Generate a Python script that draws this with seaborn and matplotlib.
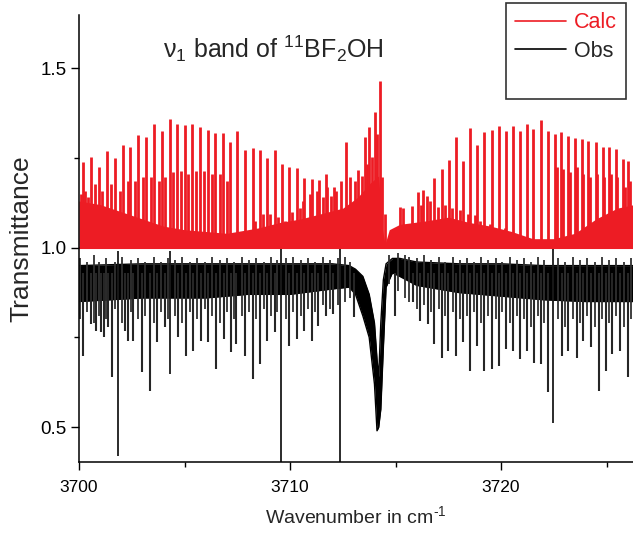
import numpy as np
import pandas as pd
import matplotlib
matplotlib.use("Agg")
import matplotlib.pyplot as plt
from matplotlib.lines import Line2D
from matplotlib.ticker import MultipleLocator
import seaborn as sns

# calculated spectrum: strong P / Q / R lines (cm-1, transmittance)
calc_strong_pos = [3700.19, 3700.57, 3700.95, 3701.33, 3701.69, 3702.07, 3702.42, 3702.81,
                   3703.19, 3703.57, 3703.93, 3704.30, 3704.64, 3705.01, 3705.37, 3705.73,
                   3706.10, 3706.45, 3706.81, 3707.17, 3707.50, 3707.87, 3708.23, 3708.58,
                   3708.92, 3709.27, 3709.62, 3709.97, 3710.33, 3710.66, 3711.03, 3711.37,
                   3711.72, 3712.07, 3712.40, 3712.64, 3713.22, 3713.54, 3713.76, 3714.03,
                   3714.27,
                   3716.08, 3716.32, 3716.84, 3717.20, 3717.54, 3717.88, 3718.21, 3718.53,
                   3718.88, 3719.21, 3719.56, 3719.89, 3720.24, 3720.55, 3720.90, 3721.21,
                   3721.53, 3721.87, 3722.21, 3722.55, 3722.86, 3723.19, 3723.51, 3723.82,
                   3724.14, 3724.50, 3724.82, 3725.13, 3725.45, 3725.77, 3726.03]
calc_strong_height = [1.238, 1.252, 1.226, 1.268, 1.250, 1.287, 1.280, 1.315,
                      1.307, 1.345, 1.324, 1.358, 1.345, 1.343, 1.345, 1.335,
                      1.329, 1.318, 1.318, 1.293, 1.324, 1.273, 1.277, 1.272,
                      1.250, 1.273, 1.233, 1.224, 1.222, 1.194, 1.190, 1.189,
                      1.205, 1.168, 1.187, 1.293, 1.216, 1.307, 1.335, 1.377,
                      1.465,
                      1.154, 1.161, 1.193, 1.219, 1.244, 1.309, 1.242, 1.333,
                      1.287, 1.321, 1.328, 1.340, 1.324, 1.340, 1.326, 1.345,
                      1.331, 1.355, 1.326, 1.317, 1.321, 1.312, 1.306, 1.303,
                      1.296, 1.293, 1.281, 1.279, 1.275, 1.247, 1.242]

# calculated spectrum: medium lines
calc_mid_pos = [3700.08, 3700.27, 3700.45, 3700.74, 3701.10, 3701.53, 3701.93, 3702.32,
                3702.67, 3703.03, 3703.40, 3703.79, 3704.09, 3704.45, 3704.82, 3705.17,
                3705.56, 3705.92, 3706.30, 3706.67, 3707.03, 3708.34, 3708.73, 3709.05,
                3709.45, 3709.76, 3710.10, 3710.45, 3710.63, 3710.95, 3711.26, 3711.55,
                3711.74, 3711.95, 3712.18, 3712.84, 3713.08, 3713.40, 3713.66, 3713.87,
                3714.11, 3714.35, 3714.50, 3715.21, 3715.37, 3715.77, 3716.20, 3716.48,
                3716.64, 3717.03, 3717.35, 3717.66, 3718.06, 3718.45, 3718.75, 3719.00,
                3719.48, 3720.19, 3722.64, 3722.95, 3723.27, 3723.59, 3723.90, 3724.22,
                3724.56, 3724.88, 3725.20, 3725.48, 3725.88, 3726.11]
calc_mid_height = [1.150, 1.159, 1.140, 1.178, 1.159, 1.178, 1.159, 1.187,
                   1.187, 1.196, 1.196, 1.187, 1.196, 1.210, 1.214, 1.205,
                   1.214, 1.214, 1.205, 1.205, 1.187, 1.075, 1.094, 1.094,
                   1.084, 1.075, 1.100, 1.110, 1.131, 1.150, 1.159, 1.140,
                   1.168, 1.145, 1.159, 1.196, 1.187, 1.200, 1.233, 1.252,
                   1.317, 1.196, 1.094, 1.112, 1.110, 1.117, 1.120, 1.145,
                   1.130, 1.112, 1.120, 1.110, 1.105, 1.094, 1.090, 1.075,
                   1.066, 1.056, 1.224, 1.219, 1.210, 1.224, 1.205, 1.196,
                   1.205, 1.196, 1.205, 1.196, 1.168, 1.187]

# calculated spectrum: envelope of the dense weak lines
calc_fill_x = [3700.0, 3701.0, 3702.0, 3703.0, 3704.0, 3705.0, 3706.0, 3707.0, 3707.5,
               3708.5, 3709.5, 3710.5, 3711.5, 3712.5, 3713.2, 3713.8, 3714.2, 3714.35,
               3714.5, 3714.7, 3715.2, 3716.5, 3717.5, 3718.5, 3719.5, 3720.5, 3721.5,
               3722.5, 3723.5, 3724.5, 3725.5, 3726.3]
calc_fill_top = [1.13, 1.12, 1.10, 1.08, 1.06, 1.05, 1.045, 1.04, 1.045,
                 1.055, 1.07, 1.08, 1.095, 1.11, 1.14, 1.18, 1.20, 1.06,
                 1.01, 1.05, 1.065, 1.075, 1.085, 1.07, 1.06, 1.045, 1.025,
                 1.025, 1.04, 1.08, 1.11, 1.12]

# observed spectrum: noisy band envelope (incl. the Q-branch dip)
obs_env_x = [3700.0, 3703.0, 3706.0, 3708.0, 3710.0, 3712.0, 3712.8, 3713.1, 3713.45,
             3713.75, 3714.0, 3714.12, 3714.2, 3714.3, 3714.42, 3714.55, 3714.85, 3715.2,
             3716.0, 3718.0, 3720.0, 3722.0, 3724.0, 3726.3]
obs_env_top = [0.95, 0.955, 0.955, 0.955, 0.955, 0.955, 0.95, 0.94, 0.92,
               0.87, 0.79, 0.69, 0.64, 0.79, 0.91, 0.955, 0.97, 0.97,
               0.96, 0.955, 0.955, 0.95, 0.95, 0.95]
obs_env_bot = [0.85, 0.86, 0.86, 0.87, 0.87, 0.885, 0.89, 0.87, 0.81,
               0.75, 0.62, 0.49, 0.50, 0.55, 0.72, 0.89, 0.93, 0.92,
               0.895, 0.875, 0.865, 0.855, 0.85, 0.85]

# observed spectrum: absorption lines (position, minimum)
obs_line_pos = [3700.19, 3700.58, 3700.82, 3701.06, 3701.18, 3701.37, 3701.58, 3702.17,
                3702.32, 3702.56, 3702.99, 3703.35, 3703.71, 3704.06, 3704.69,
                3705.09, 3705.40, 3705.80, 3706.11, 3706.51, 3706.86, 3707.19, 3707.45,
                3707.87, 3708.23, 3708.58, 3708.92, 3709.27, 3709.97, 3710.32, 3710.66,
                3711.03, 3711.34, 3711.71, 3712.05, 3713.03,
                3714.98, 3715.82, 3716.16, 3716.53, 3716.84, 3717.19, 3717.50, 3717.87,
                3718.21, 3718.53, 3718.88, 3719.19, 3719.56, 3719.89, 3720.24, 3720.58,
                3720.90, 3721.25, 3721.58, 3721.88, 3722.24, 3722.88, 3723.19, 3723.59,
                3723.90, 3724.25, 3724.63, 3724.96, 3725.24, 3725.64, 3726.03]
obs_line_min = [0.699, 0.788, 0.769, 0.764, 0.750, 0.778, 0.639, 0.769,
                0.741, 0.741, 0.653, 0.602, 0.736, 0.778, 0.750,
                0.699, 0.713, 0.741, 0.736, 0.662, 0.745, 0.708, 0.731,
                0.699, 0.634, 0.676, 0.741, 0.764, 0.727, 0.746, 0.769,
                0.741, 0.783, 0.811, 0.815, 0.806,
                0.811, 0.848, 0.797, 0.787, 0.732, 0.694, 0.713, 0.699,
                0.736, 0.657, 0.727, 0.657, 0.662, 0.671, 0.718, 0.713,
                0.690, 0.713, 0.680, 0.676, 0.597, 0.699, 0.713, 0.694,
                0.741, 0.722, 0.602, 0.657, 0.704, 0.713, 0.639]

# observed spectrum: weaker lines giving the ragged edges of the band
obs_weak_pos = [3700.05, 3700.40, 3700.70, 3700.95, 3701.30, 3701.70, 3702.05, 3702.45,
                3702.80, 3703.15, 3703.55, 3703.90, 3704.20, 3704.55, 3704.90, 3705.25,
                3705.60, 3705.95, 3706.30, 3706.70, 3707.00, 3707.35, 3707.70, 3708.05,
                3708.40, 3708.75, 3709.10, 3709.40, 3709.80, 3710.15, 3710.50, 3710.85,
                3711.20, 3711.55, 3711.90, 3712.25, 3712.60, 3712.85,
                3714.70, 3715.10, 3715.45, 3715.65, 3716.00, 3716.35, 3716.70, 3717.05,
                3717.35, 3717.70, 3718.05, 3718.40, 3718.70, 3719.05, 3719.40, 3719.75,
                3720.05, 3720.40, 3720.75, 3721.10, 3721.40, 3721.75, 3722.05, 3722.70,
                3723.05, 3723.40, 3723.75, 3724.05, 3724.45, 3724.80, 3725.10, 3725.45,
                3725.80, 3726.15]
obs_weak_min = [0.80, 0.82, 0.79, 0.81, 0.80, 0.83, 0.79, 0.82,
                0.80, 0.81, 0.79, 0.82, 0.80, 0.81, 0.79, 0.82,
                0.80, 0.83, 0.81, 0.79, 0.82, 0.80, 0.81, 0.82,
                0.80, 0.83, 0.81, 0.82, 0.80, 0.82, 0.81, 0.83,
                0.82, 0.84, 0.83, 0.84, 0.85, 0.86,
                0.90, 0.88, 0.86, 0.85, 0.83, 0.84, 0.82, 0.83,
                0.81, 0.82, 0.80, 0.81, 0.82, 0.79, 0.81, 0.80,
                0.82, 0.79, 0.81, 0.80, 0.78, 0.81, 0.79, 0.80,
                0.78, 0.80, 0.79, 0.81, 0.78, 0.80, 0.79, 0.81,
                0.78, 0.80]
obs_weak_top = [0.97, 0.96, 0.98, 0.96, 0.97, 0.96, 0.975, 0.965,
                0.97, 0.96, 0.975, 0.96, 0.97, 0.965, 0.975, 0.96,
                0.97, 0.96, 0.975, 0.965, 0.97, 0.96, 0.975, 0.965,
                0.97, 0.96, 0.975, 0.965, 0.97, 0.975, 0.965, 0.97,
                0.96, 0.975, 0.965, 0.97, 0.975, 0.96,
                0.98, 0.985, 0.98, 0.975, 0.97, 0.98, 0.965, 0.975,
                0.96, 0.975, 0.965, 0.97, 0.96, 0.975, 0.965, 0.97,
                0.96, 0.975, 0.965, 0.97, 0.96, 0.975, 0.965, 0.97,
                0.96, 0.975, 0.965, 0.97, 0.96, 0.975, 0.965, 0.97,
                0.96, 0.97]

# observed spectrum: saturated lines spanning the whole band
obs_long_pos = [3701.85, 3704.30, 3709.55, 3712.37, 3722.48]
obs_long_top = [0.99, 0.99, 1.00, 1.00, 1.00]
obs_long_min = [0.421, 0.648, 0.30, 0.30, 0.513]

RED = "#ED1C24"

sns.set_theme(style="ticks")
plt.rcParams["font.family"] = ["Liberation Sans", "DejaVu Sans"]
plt.rcParams["mathtext.fontset"] = "custom"
plt.rcParams["mathtext.rm"] = "Liberation Sans"
plt.rcParams["mathtext.it"] = "Liberation Sans:italic"

fig = plt.figure(figsize=(6.33, 5.35), dpi=100)
ax = fig.add_axes([79 / 633, 1 - 462 / 535, 1 - 79 / 633, (462 - 15) / 535])

# observed (black)
obs_env = pd.DataFrame({"x": obs_env_x, "top": obs_env_top, "bot": obs_env_bot})
ax.fill_between(obs_env.x, obs_env.bot, obs_env.top, color="black", lw=0)
sns.lineplot(data=obs_env, x="x", y="top", color="black", lw=1, ax=ax)
sns.lineplot(data=obs_env, x="x", y="bot", color="black", lw=1, ax=ax)
ax.vlines(obs_weak_pos, obs_weak_min, obs_weak_top, color="#303030", lw=1.3)
ax.vlines(obs_line_pos, obs_line_min, 0.93, color="#262626", lw=1.5)
ax.vlines(obs_long_pos, obs_long_min, obs_long_top, color="#1a1a1a", lw=1.3)

# calculated (red)
calc_env = pd.DataFrame({"x": calc_fill_x, "top": calc_fill_top})
ax.fill_between(calc_env.x, 1.0, calc_env.top, color=RED, lw=0)
ax.vlines(calc_mid_pos, 1.0, calc_mid_height, color=RED, lw=2.0)
ax.vlines(calc_strong_pos, 1.0, calc_strong_height, color=RED, lw=2.0)
ax.axhline(1.0, color=RED, lw=1.5)

ax.set_xlim(3700, 3726.25)
ax.set_ylim(0.403, 1.648)
ax.xaxis.set_major_locator(MultipleLocator(10))
ax.xaxis.set_minor_locator(MultipleLocator(5))
ax.yaxis.set_major_locator(MultipleLocator(0.5))
ax.yaxis.set_minor_locator(MultipleLocator(0.25))
ax.tick_params(which="major", length=6, width=1, colors="black", labelsize=12.5,
               direction="out", pad=7)
ax.tick_params(axis="y", which="major", labelsize=13.5, pad=3)
ax.tick_params(which="minor", length=3.5, width=1, colors="black", direction="out")
for s in ["top", "right"]:
    ax.spines[s].set_visible(False)
for s in ["left", "bottom"]:
    ax.spines[s].set_color("black")
    ax.spines[s].set_linewidth(1.1)

ax.set_xlabel(r"Wavenumber in cm$^{\text{-1}}$", fontsize=14, labelpad=7)
ax.set_ylabel("Transmittance", fontsize=19, labelpad=5)

ax.text(3704.0, 1.555, r"ν$_1$ band of $^{11}$BF$_2$OH", fontsize=18, va="center", ha="left")

handles = [Line2D([], [], color=RED, lw=1.2), Line2D([], [], color="black", lw=1.2),
           Line2D([], [], color="none")]
leg = ax.legend(handles, ["Calc", "Obs", " "], loc="upper right",
                bbox_to_anchor=(626 / 633, 1 - 3 / 535), bbox_transform=fig.transFigure,
                borderaxespad=0, fontsize=15.5, frameon=True, fancybox=False,
                edgecolor="black", handlelength=2.4, handletextpad=0.35,
                labelspacing=0.35, borderpad=0.42)
leg.get_frame().set_linewidth(1.2)
leg.get_texts()[0].set_color(RED)

fig.savefig("out.png", dpi=100)
